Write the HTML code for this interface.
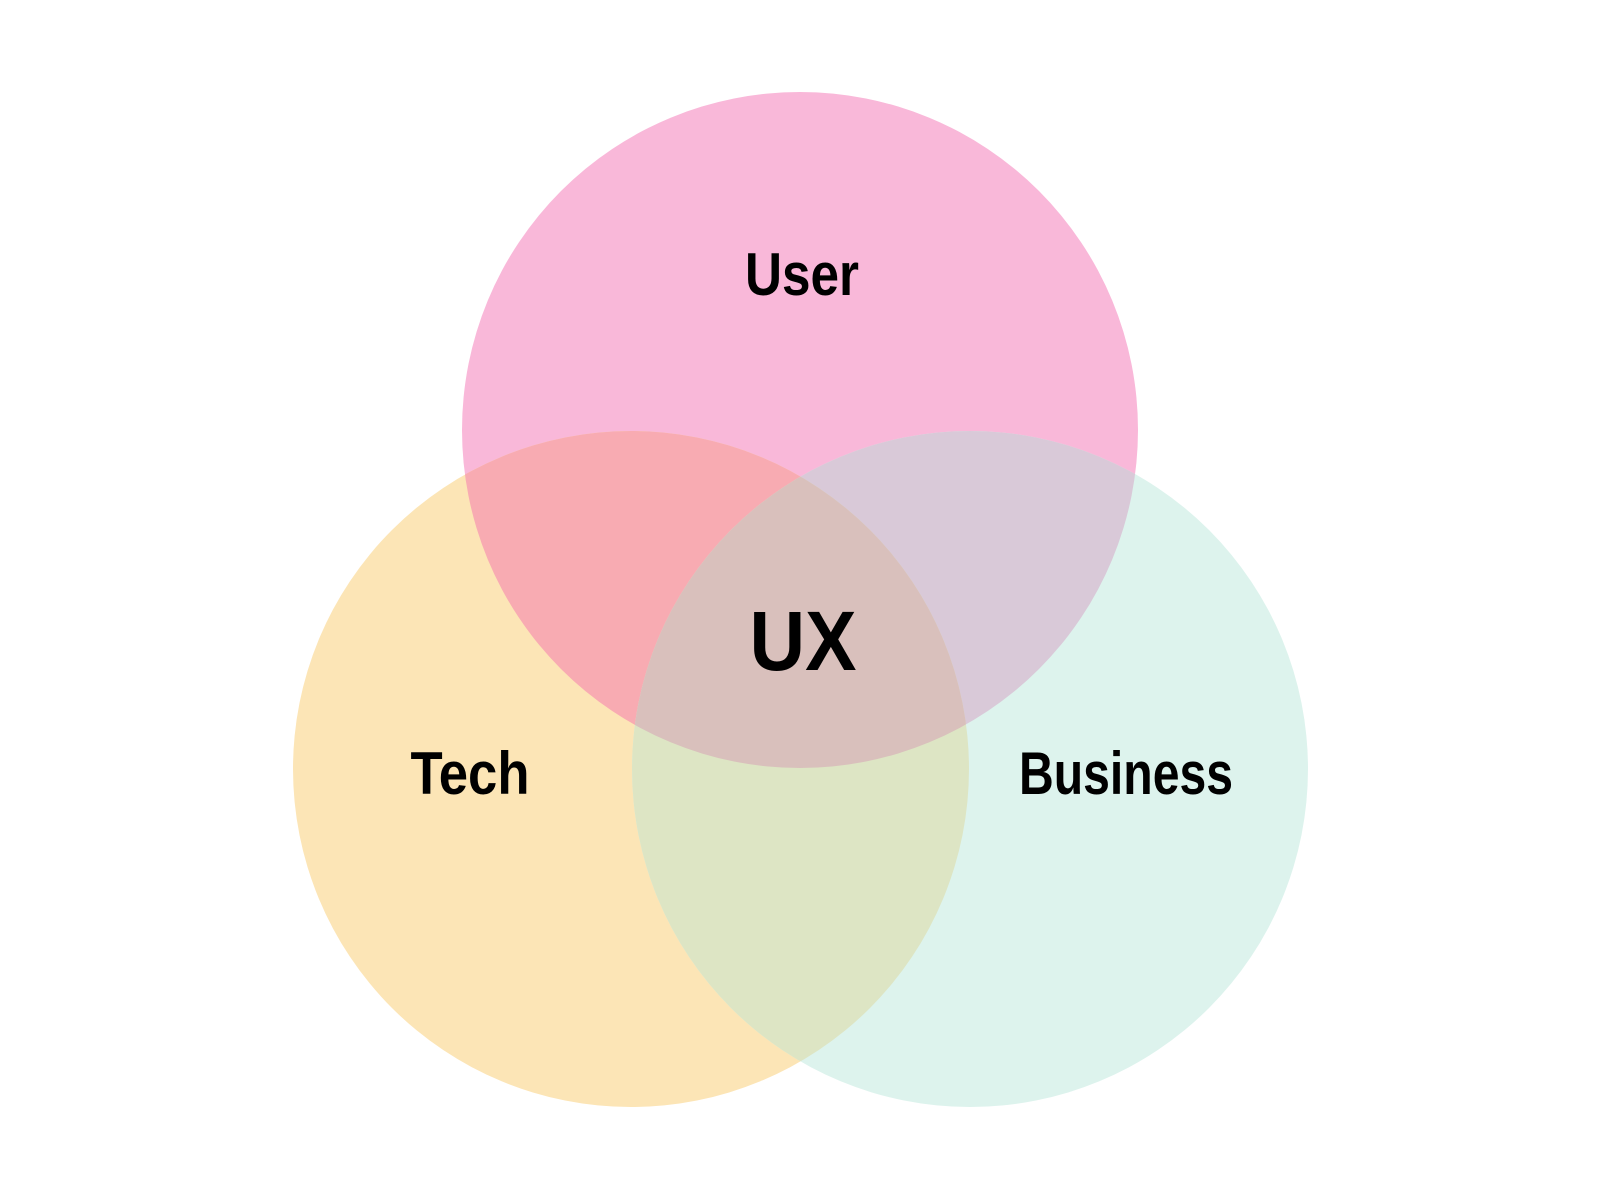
<!DOCTYPE html>
<html><head><meta charset="utf-8"><style>
html,body{margin:0;padding:0;background:#fff;}
svg{display:block}
text{font-family:"Liberation Sans",sans-serif;font-weight:bold;fill:#000;text-anchor:middle}
</style></head><body>
<svg width="1600" height="1200" viewBox="0 0 1600 1200" xmlns="http://www.w3.org/2000/svg">
<defs>
<clipPath id="cu"><circle cx="800" cy="430" r="338"/></clipPath>
<clipPath id="ct"><circle cx="631" cy="769" r="338"/></clipPath>
<clipPath id="cb"><circle cx="970" cy="769" r="338"/></clipPath>
</defs>
<circle cx="800" cy="430" r="338" fill="#f9b8d9"/>
<circle cx="631" cy="769" r="338" fill="#fce5b6"/>
<circle cx="970" cy="769" r="338" fill="#ddf3ed"/>
<g clip-path="url(#cu)">
<circle cx="631" cy="769" r="338" fill="#f8abb2"/>
<circle cx="970" cy="769" r="338" fill="#d9c9d8"/>
</g>
<g clip-path="url(#ct)">
<circle cx="970" cy="769" r="338" fill="#dde5c4"/>
</g>
<g clip-path="url(#cu)"><g clip-path="url(#ct)">
<circle cx="970" cy="769" r="338" fill="#d9c0bc"/>
</g></g>
<text x="802" y="295" font-size="60" textLength="114" lengthAdjust="spacingAndGlyphs">User</text>
<text x="803" y="670" font-size="84" textLength="107" lengthAdjust="spacingAndGlyphs">UX</text>
<text x="470" y="794" font-size="60" textLength="119" lengthAdjust="spacingAndGlyphs">Tech</text>
<text x="1126" y="794" font-size="60" textLength="214" lengthAdjust="spacingAndGlyphs">Business</text>
</svg>
</body></html>
